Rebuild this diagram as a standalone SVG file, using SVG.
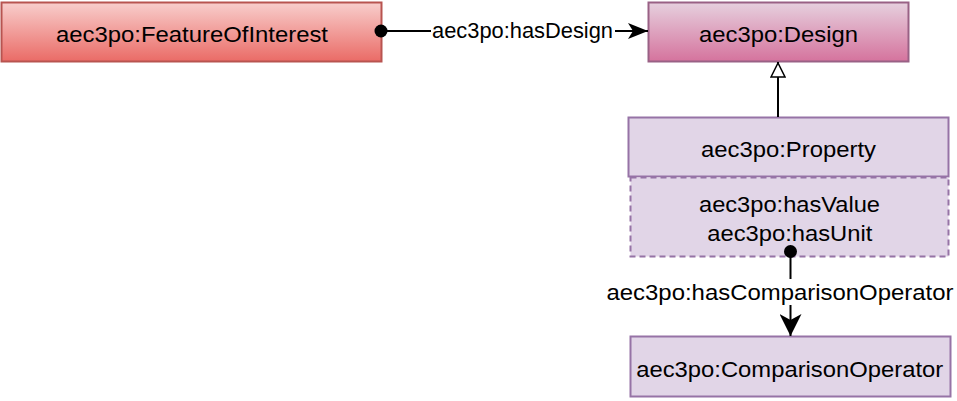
<svg xmlns="http://www.w3.org/2000/svg" width="957" height="401" viewBox="0 0 957 401">
  <defs>
    <linearGradient id="gRed" x1="0" y1="0" x2="0" y2="1">
      <stop offset="0" stop-color="#f8cecc"/>
      <stop offset="1" stop-color="#ea6b66"/>
    </linearGradient>
    <linearGradient id="gPink" x1="0" y1="0" x2="0" y2="1">
      <stop offset="0" stop-color="#e6d0de"/>
      <stop offset="1" stop-color="#d5739d"/>
    </linearGradient>
    <marker id="arrow" viewBox="0 0 20 20" refX="20" refY="10" markerWidth="20" markerHeight="20" markerUnits="userSpaceOnUse" orient="auto">
      <path d="M0,2 L20,10 L0,18 L5,10 Z" fill="#000"/>
    </marker>
    <marker id="arrowBig" viewBox="0 0 22 22" refX="22" refY="11" markerWidth="22" markerHeight="22" markerUnits="userSpaceOnUse" orient="auto">
      <path d="M0,0 L22,11 L0,22 L6,11 Z" fill="#000"/>
    </marker>
    <marker id="tri" viewBox="0 0 16 16" refX="16" refY="8" markerWidth="16" markerHeight="16" markerUnits="userSpaceOnUse" orient="auto">
      <path d="M1,1 L15,8 L1,15 Z" fill="#fff" stroke="#000" stroke-width="1.5"/>
    </marker>
  </defs>
  <style>
    text { font-family: "Liberation Sans", Arial, sans-serif; font-size: 22px; fill: #000; text-anchor: middle; }
    .edge { stroke: #000; stroke-width: 2; fill: none; }
    .purple { fill: #e1d5e7; stroke: #9673a6; stroke-width: 2; }
    .dot { fill: #000; }
  </style>
  <g id="featureOfInterest">
    <rect x="1.5" y="2.5" width="380" height="59" fill="url(#gRed)" stroke="#b85450" stroke-width="2"/>
    <text x="192" y="41.5" textLength="272" lengthAdjust="spacingAndGlyphs">aec3po:FeatureOfInterest</text>
  </g>
  <g id="design">
    <rect x="648.5" y="2.5" width="260" height="59" fill="url(#gPink)" stroke="#996185" stroke-width="2"/>
    <text x="778.5" y="41.5" textLength="159" lengthAdjust="spacingAndGlyphs">aec3po:Design</text>
  </g>
  <g id="property">
    <rect class="purple" x="628.5" y="117.5" width="320" height="59"/>
    <text x="788.5" y="156.5" textLength="175" lengthAdjust="spacingAndGlyphs">aec3po:Property</text>
  </g>
  <g id="propertyAttributes">
    <rect x="630.5" y="177.5" width="318" height="79" fill="#e1d5e7" stroke="#9673a6" stroke-width="2" stroke-dasharray="6 4"/>
    <text x="789.5" y="211.5" textLength="181" lengthAdjust="spacingAndGlyphs">aec3po:hasValue</text>
    <text x="789.8" y="240.5" textLength="165" lengthAdjust="spacingAndGlyphs">aec3po:hasUnit</text>
  </g>
  <g id="comparisonOperator">
    <rect class="purple" x="630.5" y="336.5" width="320" height="60"/>
    <text x="789.7" y="376.5" textLength="307" lengthAdjust="spacingAndGlyphs">aec3po:ComparisonOperator</text>
  </g>
  <g id="connectors">
    <line class="edge" x1="381" y1="31" x2="648" y2="31" marker-end="url(#arrow)"/>
    <circle class="dot" cx="381" cy="31" r="6.5"/>
    <rect x="431" y="18" width="184" height="25" fill="#fff"/>
    <text x="522.5" y="37.5" textLength="181" lengthAdjust="spacingAndGlyphs">aec3po:hasDesign</text>
    <line class="edge" x1="778" y1="117" x2="778" y2="62" marker-end="url(#tri)"/>
    <line class="edge" x1="790.5" y1="252" x2="790.5" y2="336" marker-end="url(#arrowBig)"/>
    <circle class="dot" cx="790.5" cy="251.5" r="6.5"/>
    <rect x="605" y="279" width="350" height="26" fill="#fff"/>
    <text x="780" y="299.5" textLength="347" lengthAdjust="spacingAndGlyphs">aec3po:hasComparisonOperator</text>
  </g>
</svg>
